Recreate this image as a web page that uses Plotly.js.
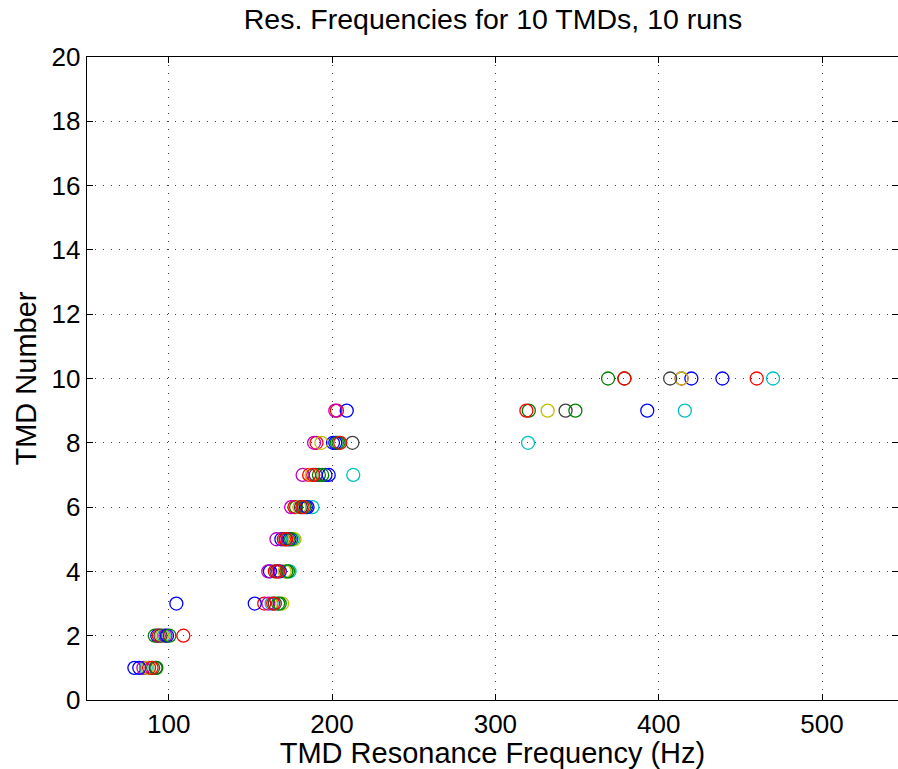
<!DOCTYPE html>
<html><head><meta charset="utf-8">
<script src="https://cdn.plot.ly/plotly-3.0.1.min.js"></script>
<style>html,body{margin:0;padding:0;background:#fff}#chart{width:898px;height:769px}</style>
</head><body><div id="chart"></div>
<script>
// TMD numbers (y values)
const tmdNumbers = [1,2,3,4,5,6,7,8,9,10];
// Resonance frequencies (Hz) for each run, TMD 1..10
const run1  = [79, 93, 104.7, 162, 169, 184, 196, 200.6, 209, 420];
const run2  = [90.5, 91.5, 167, 172, 173, 178, 192, 203, 320.5, 369];
const run3  = [88, 94, 158.5, 165, 170.5, 177, 186, 190.5, 203, 460];
const run4  = [86, 97, 163, 174, 176, 188, 213, 320, 416, 470];
const run5  = [84.5, 98, 161, 161, 166, 175, 182, 189, 202, 414];
const run6  = [87, 96, 169.5, 171, 177, 180, 187.5, 193.5, 332, 414];
const run7  = [92, 95, 165, 166, 171.5, 181, 190, 212.5, 343, 407];
const run8  = [82, 99, 152.7, 168, 174, 185, 198, 202, 393, 439];
const run9  = [92.5, 100.5, 168, 173, 175, 183, 194, 204, 349, 379];
const run10 = [89.5, 109, 164, 167, 172, 182, 188.5, 205, 319, 379];
const runs = [run1, run2, run3, run4, run5, run6, run7, run8, run9, run10];
const runColors = ['#0000ff','#008000','#ff0000','#00bfbf','#bf00bf','#bfbf00','#404040','#0000ff','#008000','#ff0000'];

const traces = runs.map((r, i) => ({
  x: r, y: tmdNumbers, type: 'scatter', mode: 'markers',
  marker: {symbol: 'circle-open', size: 13, color: runColors[i], line: {width: 1.3, color: runColors[i]}},
  showlegend: false, hoverinfo: 'x+y'
}));

const font = 'Liberation Sans, Arial, Helvetica, sans-serif';
const layout = {
  width: 898, height: 769,
  margin: {l: 87, r: 0, t: 57, b: 69},
  paper_bgcolor: '#fff', plot_bgcolor: '#fff',
  font: {family: font, color: '#000'},
  title: {text: 'Res. Frequencies for 10 TMDs, 10 runs', font: {size: 28.5, family: font, color: '#000'}, x: 0.549, xanchor: 'center', y: 0.975, yanchor: 'middle'},
  xaxis: {
    range: [50, 546.5], tickvals: [100,200,300,400,500], ticktext: ['100','200','300','400','500'],
    showgrid: true, gridcolor: '#444', griddash: '1px,7px', gridwidth: 1,
    zeroline: false, showline: true, linecolor: '#000', linewidth: 1.3, mirror: 'ticks',
    ticks: 'inside', ticklen: 6, tickcolor: '#000',
    tickfont: {size: 26, family: font, color: '#000'},
    title: {text: 'TMD Resonance Frequency (Hz)', font: {size: 29, family: font, color: '#000'}, standoff: 0}
  },
  yaxis: {
    range: [0, 20], tickvals: [0,2,4,6,8,10,12,14,16,18,20],
    showgrid: true, gridcolor: '#444', griddash: '1px,7px', gridwidth: 1,
    zeroline: false, showline: true, linecolor: '#000', linewidth: 1.3, mirror: 'ticks',
    ticks: 'inside', ticklen: 6, tickcolor: '#000',
    tickfont: {size: 26, family: font, color: '#000'},
    title: {text: 'TMD Number', font: {size: 29, family: font, color: '#000'}, standoff: 6}
  }
};
Plotly.newPlot('chart', traces, layout, {displayModeBar: false, staticPlot: true});
</script>
</body></html>
